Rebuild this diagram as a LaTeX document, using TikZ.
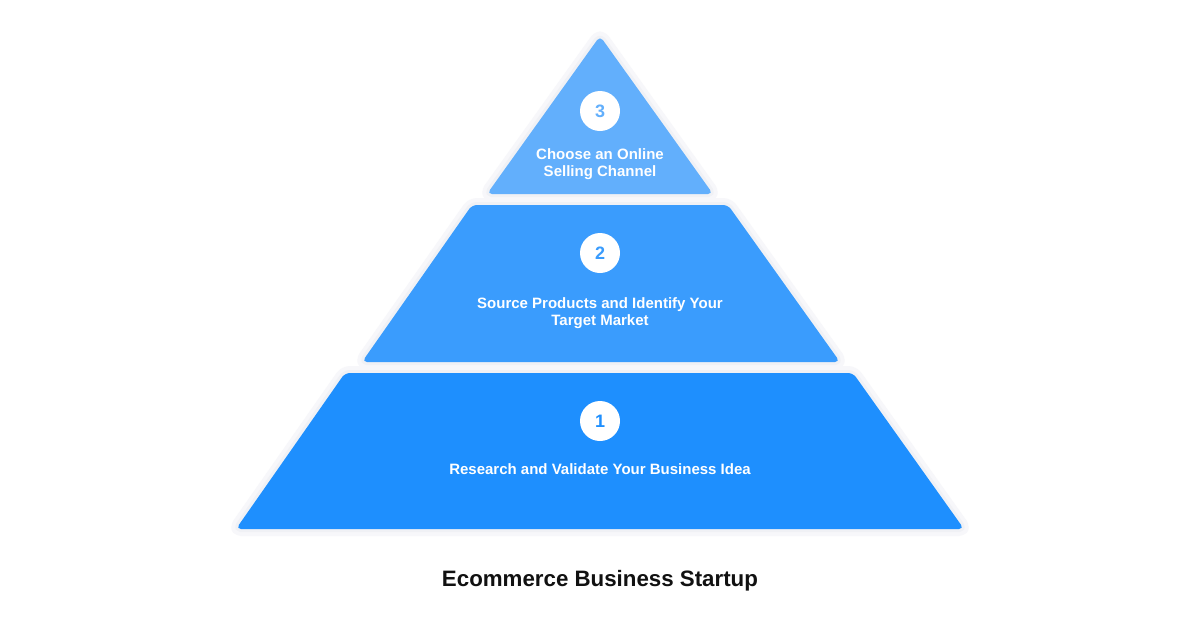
\documentclass[tikz,border=0pt]{standalone}
\usepackage{fontspec}
\setmainfont{Liberation Sans}
\definecolor{topc}{HTML}{62AFFC}
\definecolor{midc}{HTML}{3A9CFD}
\definecolor{botc}{HTML}{1E8FFE}
\definecolor{glowA}{HTML}{F7F7FA}
\definecolor{glowB}{HTML}{F0F1F5}
\definecolor{titlec}{HTML}{111111}
\tikzset{
  band/.style={rounded corners=5pt, line join=round},
  glowouter/.style={band, draw=glowA, line width=14pt},
  glowinner/.style={band, draw=glowB, line width=6pt},
  numcircle/.style={circle, fill=white, minimum size=40pt, inner sep=0pt, font=\bfseries\fontsize{18}{18}\selectfont},
  bandtext/.style={text=white, align=center, font=\bfseries\fontsize{15}{16.5}\selectfont},
  titletext/.style={text=titlec, font=\bfseries\fontsize{22.3}{25}\selectfont}
}
\begin{document}
\begin{tikzpicture}[x=1pt,y=-1pt]
\useasboundingbox (0,0) rectangle (1200,630);
\fill[white] (0,0) rectangle (1200,630);
% glows
\foreach \s in {glowouter,glowinner}{
  \draw[\s] (600,36) -- (713,194) -- (487,194) -- cycle;
  \draw[\s] (472,205) -- (728,205) -- (840,362) -- (362,362) -- cycle;
  \draw[\s] (345,373) -- (853,373) -- (964,529) -- (236,529) -- cycle;
}
% bands
\fill[band, topc] (600,36) -- (713,194) -- (487,194) -- cycle;
\fill[band, midc] (472,205) -- (728,205) -- (840,362) -- (362,362) -- cycle;
\fill[band, botc] (345,373) -- (853,373) -- (964,529) -- (236,529) -- cycle;
% circles
\node[numcircle, text=topc] (n3) at (600,111) {3};
\node[numcircle, text=midc] (n2) at (600,253) {2};
\node[numcircle, text=botc] (n1) at (600,421) {1};
% texts
\node[bandtext] (t3) at (600,164) {Choose an Online\\Selling Channel};
\node[bandtext] (t2) at (600,313) {Source Products and Identify Your\\Target Market};
\node[bandtext] (t1) at (600,469) {Research and Validate Your Business Idea};
\node[titletext] (title) at (600,581) {Ecommerce Business Startup};
\end{tikzpicture}
\end{document}
